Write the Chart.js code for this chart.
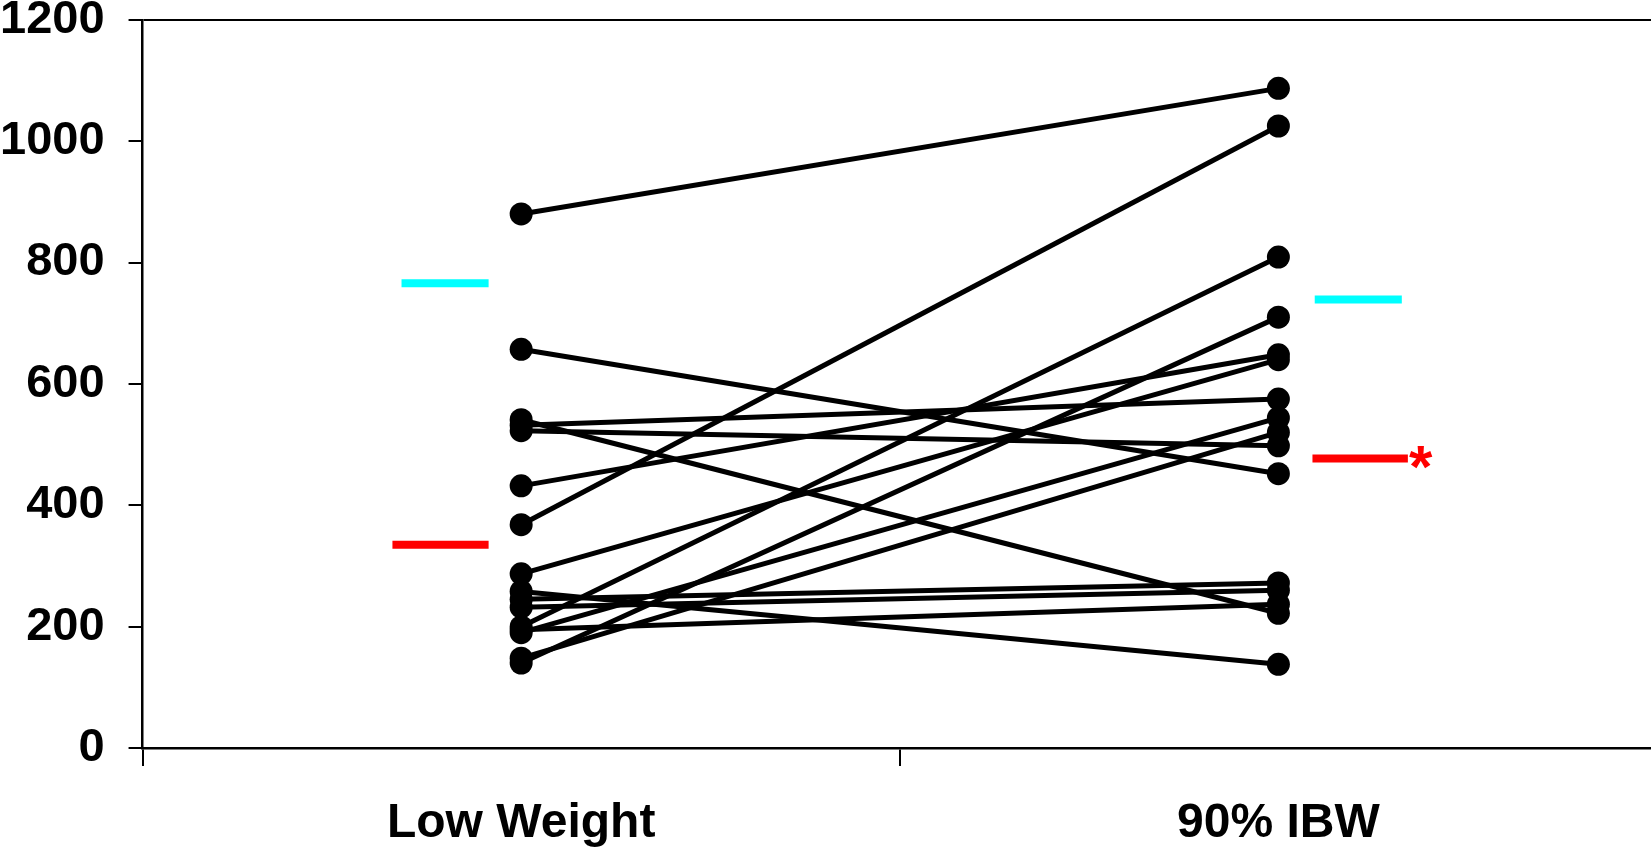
<!DOCTYPE html>
<html>
<head>
<meta charset="utf-8">
<script src="https://cdn.jsdelivr.net/npm/chart.js@4.4.1/dist/chart.umd.min.js"></script>
<style>
  html, body { margin:0; padding:0; background:#fff; overflow:hidden; }
  /* canvas is a bit larger than the window: the plot runs off the right edge like the original */
  #wrap { position:absolute; left:-24px; top:-23px; width:1715px; height:911px; }
</style>
</head>
<body>
<div id="wrap"><canvas id="chart"></canvas></div>
<script>
// ── Data ───────────────────────────────────────────────────
const categories = ['Low Weight', '90% IBW'];
const lowWeight  = [880, 657, 541, 532, 523, 432, 368, 287, 258, 245, 232, 200, 195, 190, 148, 140];
const ibw90      = [1087, 452, 222, 575, 498, 648, 1025, 640, 138, 272, 260, 809, 237, 544, 520, 710];
const cyanMeans  = [766, 739];   // Low Weight, 90% IBW
const redMeans   = [335, 477];
const yTicks     = [0, 200, 400, 600, 800, 1000, 1200];

const FONT = "'Liberation Sans', Arial, sans-serif";

// subject lines
const datasets = lowWeight.map((v, i) => ({
  data: [{ x:0, y:v }, { x:1, y:ibw90[i] }],
  borderColor:'#000', backgroundColor:'#000', borderWidth:5,
  pointRadius:11.5, pointBorderWidth:0, pointBackgroundColor:'#000', clip:false,
}));

// mean bars (short horizontal segments beside each column)
const meanBar = (x0, x1, y, color) => ({
  data: [{ x:x0, y }, { x:x1, y }],
  borderColor:color, borderWidth:8, borderCapStyle:'butt', pointRadius:0, clip:false,
});
datasets.push(meanBar(-0.158, -0.043, cyanMeans[0], '#00ffff'));
datasets.push(meanBar(-0.170, -0.043, redMeans[0],  '#ff0000'));
datasets.push(meanBar( 1.048,  1.163, cyanMeans[1], '#00ffff'));
datasets.push(meanBar( 1.045,  1.171, redMeans[1],  '#ff0000'));

// red asterisk after the 90% IBW mean
const asterisk = {
  id:'asterisk',
  afterDatasetsDraw(chart) {
    const { ctx, scales:{ x, y } } = chart;
    ctx.save();
    ctx.fillStyle = '#ff0000';
    ctx.font = `bold 60px ${FONT}`;
    ctx.textAlign = 'center';
    ctx.textBaseline = 'alphabetic';
    ctx.fillText('*', x.getPixelForValue(1.188), y.getPixelForValue(redMeans[1]) + 28);
    ctx.restore();
  }
};

new Chart(document.getElementById('chart'), {
  type:'line',
  data:{ datasets },
  plugins:[asterisk],
  options:{
    responsive:true, maintainAspectRatio:false, animation:false,
    layout:{ autoPadding:false, padding:{ top:0, right:6, bottom:6, left:0 } },
    plugins:{ legend:{ display:false }, tooltip:{ enabled:false } },
    scales:{
      x:{
        type:'linear', min:-0.5, max:1.5,
        border:{ display:true, color:'#000', width:2.5 },
        grid:{ drawOnChartArea:false, drawTicks:true, tickLength:18, lineWidth:2,
               tickColor: c => (c.tick && Math.abs(c.tick.value % 1) === 0.5) ? '#000' : 'rgba(0,0,0,0)' },
        afterBuildTicks: s => { s.ticks = [-0.5, 0, 0.5, 1, 1.5].map(v => ({ value:v })); },
        ticks:{ autoSkip:false, maxRotation:0, padding:34, color:'#000',
                font:{ family:FONT, size:48, weight:'bold', lineHeight:1.0 },
                callback: v => (v === 0 || v === 1) ? categories[v] : '' },
      },
      y:{
        min:0, max:1200,
        border:{ display:true, color:'#000', width:2.5 },
        grid:{ drawTicks:true, tickLength:14, lineWidth:2, tickColor:'#000',
               color: c => (c.tick && c.tick.value === 1200) ? '#000' : 'rgba(0,0,0,0)' },
        afterBuildTicks: s => { s.ticks = yTicks.map(v => ({ value:v })); },
        ticks:{ padding:24, color:'#000', callback: v => String(v),
                font:{ family:FONT, size:47, weight:'bold', lineHeight:0.8 } },
      },
    },
  },
});
</script>
</body>
</html>
